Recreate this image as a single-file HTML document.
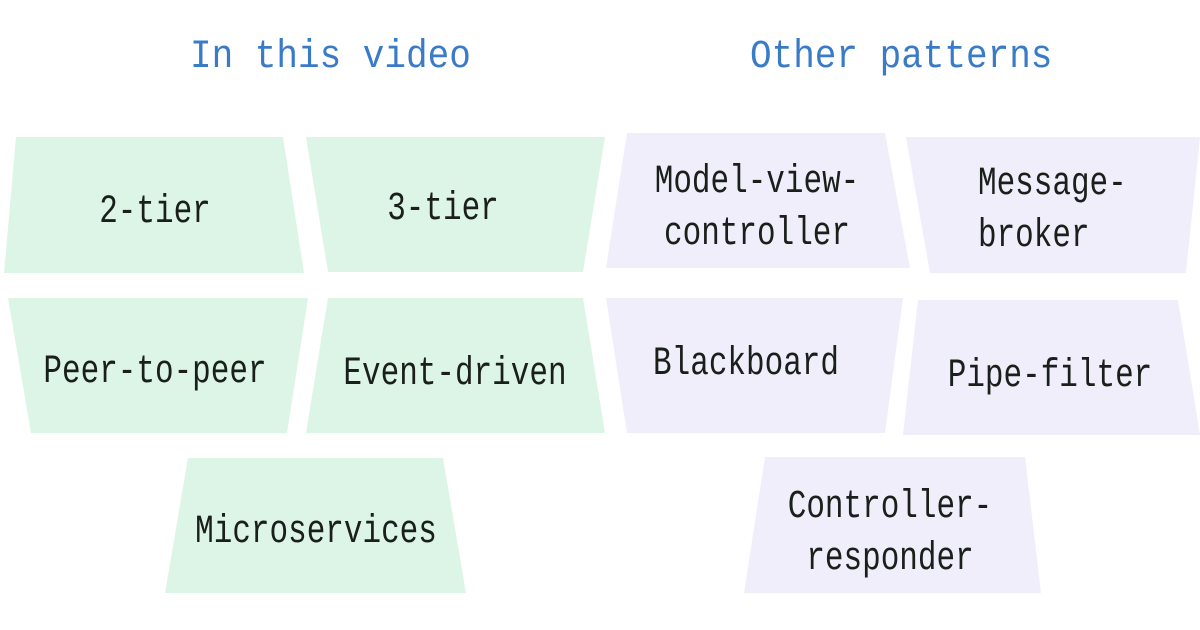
<!DOCTYPE html>
<html><head><style>
html,body{margin:0;padding:0;background:#fff;}
svg{display:block;}
text{font-family:"Liberation Mono",monospace;}
.t{font-size:40px;fill:#1b1f1c;}
.h{font-size:40px;fill:#3a7bc8;}
</style></head><body>
<svg width="1200" height="630" viewBox="0 0 1200 630">
<rect width="1200" height="630" fill="#fff"/>
<g transform="translate(190,67) scale(0.9,1)"><text class="h" x="0" y="0">In this video</text></g>
<g transform="translate(750,67) scale(0.9,1)"><text class="h" x="0" y="0">Other patterns</text></g>
<g fill="#dcf5e6">
<polygon points="16,137 283,137 304,273 4,273"/>
<polygon points="306,137 605,137 583,272 328,272"/>
<polygon points="8,298 308,298 287,433 31,433"/>
<polygon points="328,298 583,298 605,433 306,433"/>
<polygon points="188,458 443,458 466,593 165,593"/>
</g>
<g fill="#efeefa">
<polygon points="627,133 885,133 910,268 606,268"/>
<polygon points="906,137 1200,137 1186,273 930,273"/>
<polygon points="606,298 903,298 885,433 627,433"/>
<polygon points="918,300 1178,300 1200,435 903,435"/>
<polygon points="765,457 1025,457 1041,593 744,593"/>
</g>
<g class="t" text-anchor="middle">
<g transform="translate(155,222) scale(0.775,1)"><text>2-tier</text></g>
<g transform="translate(443,219) scale(0.775,1)"><text>3-tier</text></g>
<g transform="translate(155,382) scale(0.775,1)"><text>Peer-to-peer</text></g>
<g transform="translate(455,384) scale(0.775,1)"><text>Event-driven</text></g>
<g transform="translate(316,542) scale(0.775,1)"><text>Microservices</text></g>
<g transform="translate(757,192) scale(0.775,1)"><text>Model-view-</text></g>
<g transform="translate(757,244) scale(0.775,1)"><text>controller</text></g>
<g transform="translate(746,374) scale(0.775,1)"><text>Blackboard</text></g>
<g transform="translate(1050,386) scale(0.775,1)"><text>Pipe-filter</text></g>
<g transform="translate(890,517) scale(0.775,1)"><text>Controller-</text></g>
<g transform="translate(890,569) scale(0.775,1)"><text>responder</text></g>
</g>
<g class="t">
<g transform="translate(978,194) scale(0.775,1)"><text>Message-</text></g>
<g transform="translate(978,246) scale(0.775,1)"><text>broker</text></g>
</g>
</svg>
</body></html>
